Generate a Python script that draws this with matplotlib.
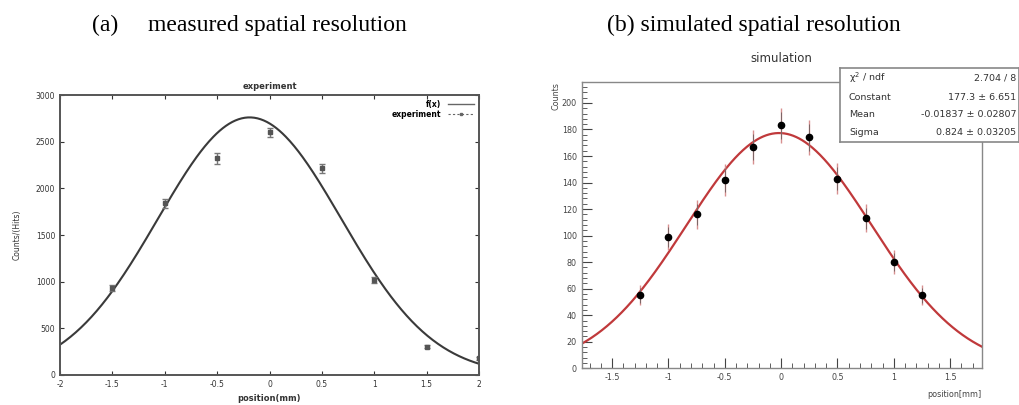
import numpy as np
import matplotlib
matplotlib.use("Agg")
import matplotlib.pyplot as plt
from matplotlib.ticker import MultipleLocator
from matplotlib.lines import Line2D

# ---------------- data ----------------
# (a) measured
exp_x = [-1.5, -1.0, -0.5, 0.0, 0.5, 1.0, 1.5, 2.0]
exp_y = [930, 1840, 2320, 2600, 2215, 1020, 305, 180]
exp_err = [30, 50, 60, 45, 50, 30, 20, 15]
exp_fit_const = 2760.0
exp_fit_mean = -0.19
exp_fit_sigma = 0.875

# (b) simulated
sim_x = [-1.25, -1.0, -0.75, -0.5, -0.25, 0.0, 0.25, 0.5, 0.75, 1.0, 1.25]
sim_y = [55, 99, 116, 142, 167, 183, 174, 143, 113, 80, 55]
sim_fit_const = 177.3
sim_fit_mean = -0.01837
sim_fit_sigma = 0.824

stats_labels = ["\u03c7$^{2}$ / ndf", "Constant", "Mean", "Sigma"]
stats_values = ["2.704 / 8", "177.3 \u00b1 6.651", "-0.01837 \u00b1 0.02807", "0.824 \u00b1 0.03205"]

left_yticks = [0, 500, 1000, 1500, 2000, 2500, 3000]
left_xticks = [-2, -1.5, -1, -0.5, 0, 0.5, 1, 1.5, 2]
left_xticklabels = ["-2", "-1.5", "-1", "-0.5", "0", "0.5", "1", "1.5", "2"]
right_xticks = [-1.5, -1, -0.5, 0, 0.5, 1, 1.5]
right_xticklabels = ["-1.5", "-1", "-0.5", "0", "0.5", "1", "1.5"]
right_yticks = [0, 20, 40, 60, 80, 100, 120, 140, 160, 180, 200]


def gauss(x, c, m, s):
    return c * np.exp(-0.5 * ((x - m) / s) ** 2)


fig = plt.figure(figsize=(10.19, 4.05), dpi=100)

# headers
hdr_y = 1 - 31 / 405
fig.text(92 / 1019, hdr_y, "(a)", family="Liberation Serif", fontsize=17,
         va="baseline", ha="left")
fig.text(148 / 1019, hdr_y, "measured spatial resolution", family="Liberation Serif",
         fontsize=17, va="baseline", ha="left")
fig.text(607 / 1019, hdr_y, "(b) simulated spatial resolution", family="Liberation Serif",
         fontsize=17, va="baseline", ha="left")

# ---------------- left panel ----------------
axL = fig.add_axes([60 / 1019, 1 - 375 / 405, 419 / 1019, 280 / 405])
xx = np.linspace(-2, 2, 400)
axL.plot(xx, gauss(xx, exp_fit_const, exp_fit_mean, exp_fit_sigma), color="#3a3a3a",
         lw=1.5)
axL.errorbar(exp_x, exp_y, yerr=exp_err, fmt="s", ms=2.5, color="#555555", ecolor="#777777",
             elinewidth=1.0, capsize=2, ls="none")
axL.set_xlim(-2, 2)
axL.set_ylim(0, 3000)
axL.set_xticks(left_xticks)
axL.set_xticklabels(left_xticklabels)
axL.set_yticks(left_yticks)
axL.tick_params(direction="in", top=True, right=True, labelsize=5.5, length=3, width=0.8,
                colors="#333333")
for sp in axL.spines.values():
    sp.set_color("#555555")
    sp.set_linewidth(1.4)
axL.set_title("experiment", fontsize=6, fontweight="bold", pad=4, color="#333333")
axL.set_xlabel("position(mm)", fontsize=6, fontweight="bold", labelpad=4, color="#333333")
axL.set_ylabel("Counts/(Hits)", fontsize=5.5, labelpad=10, color="#333333")
handles = [Line2D([0], [0], color="#666666", lw=1.0),
           Line2D([0], [0], color="#666666", lw=0.8, ls=(0, (2, 2)), marker="s", ms=1.5)]
axL.legend(handles, ["f(x)", "experiment"], loc="upper right", frameon=False,
           handlelength=3.5, borderaxespad=0.2, labelspacing=0.2, markerfirst=False,
           prop={"weight": "bold", "size": 5.5})

# ---------------- right panel ----------------
axR = fig.add_axes([581.7 / 1019, 1 - 368.3 / 405, 400 / 1019, 286.6 / 405])
xx2 = np.linspace(-1.77, 1.78, 400)
axR.plot(xx2, gauss(xx2, sim_fit_const, sim_fit_mean, sim_fit_sigma), color="#c0393b", lw=1.6,
         zorder=2)
sim_err = np.sqrt(np.array(sim_y, dtype=float))
axR.errorbar(sim_x, sim_y, yerr=sim_err, fmt="o", ms=4.5, color="black", ecolor="#d89090",
             elinewidth=1.0, capsize=0, zorder=3)
axR.errorbar(sim_x, sim_y, yerr=sim_err * 0.75, fmt="none", ecolor="#555555",
             elinewidth=0.5, capsize=0, zorder=3)
axR.set_xlim(-1.77, 1.78)
axR.set_ylim(0, 216)
axR.set_xticks(right_xticks)
axR.set_xticklabels(right_xticklabels)
axR.set_yticks(right_yticks)
axR.xaxis.set_minor_locator(MultipleLocator(0.1))
axR.yaxis.set_minor_locator(MultipleLocator(4))
axR.tick_params(which="major", direction="in", labelsize=5.8, length=7, width=0.8,
                colors="#444444")
axR.tick_params(which="minor", direction="in", length=3.5, width=0.6, colors="#444444")
for sp in axR.spines.values():
    sp.set_color("#888888")
    sp.set_linewidth(1.0)
axR.text(0.5, 1.06, "simulation", transform=axR.transAxes, ha="center", va="bottom",
         fontsize=8.5, color="#333333")
axR.set_xlabel("position[mm]", fontsize=5.8, color="#444444")
axR.xaxis.set_label_coords(1.0, -0.075)
axR.xaxis.label.set_horizontalalignment("right")
axR.set_ylabel("Counts", fontsize=5.8, color="#444444")
axR.yaxis.set_label_coords(-0.075, 1.0)
axR.yaxis.label.set_verticalalignment("top")
axR.yaxis.label.set_horizontalalignment("right")

# stats box
box = fig.add_axes([840 / 1019, 1 - 142 / 405, 179 / 1019, 74 / 405])
box.set_xticks([])
box.set_yticks([])
box.set_xlim(0, 1)
box.set_ylim(0, 1)
for sp in box.spines.values():
    sp.set_color("#888888")
    sp.set_linewidth(1.2)
row_y = [0.865, 0.608, 0.378, 0.135]
for y, lab, val in zip(row_y, stats_labels, stats_values):
    box.text(0.05, y, lab, fontsize=6.8, va="center", ha="left", color="#333333")
    box.text(0.985, y, val, fontsize=6.8, va="center", ha="right", color="#333333")

fig.savefig("out.png", dpi=100)
